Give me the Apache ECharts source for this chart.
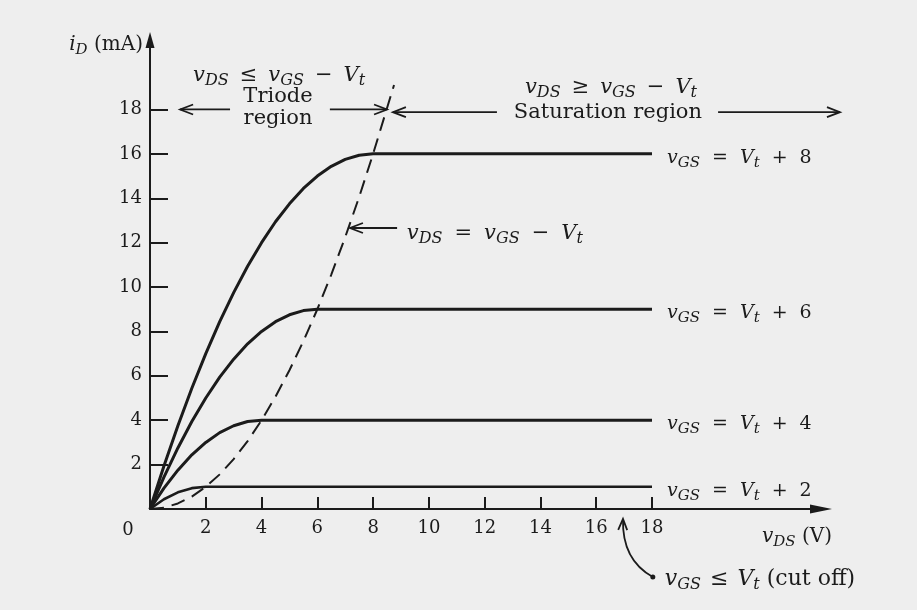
<!DOCTYPE html>
<html><head><meta charset="utf-8">
<script src="https://cdn.jsdelivr.net/npm/echarts@6/dist/echarts.min.js"></script>
<style>html,body{margin:0;padding:0;background:#eeeeee}#c{width:917px;height:610px}</style>
</head><body><div id="c"></div>
<script>
// ---- data ----
const vds8 = [0, 0.5, 1, 1.5, 2, 2.5, 3, 3.5, 4, 4.5, 5, 5.5, 6, 6.5, 7, 7.5, 8, 18];
const id8  = [0, 1.94, 3.75, 5.44, 7, 8.44, 9.75, 10.94, 12, 12.94, 13.75, 14.44, 15, 15.44, 15.75, 15.94, 16, 16];
const vds6 = [0, 0.5, 1, 1.5, 2, 2.5, 3, 3.5, 4, 4.5, 5, 5.5, 6, 18];
const id6  = [0, 1.44, 2.75, 3.94, 5, 5.94, 6.75, 7.44, 8, 8.44, 8.75, 8.94, 9, 9];
const vds4 = [0, 0.5, 1, 1.5, 2, 2.5, 3, 3.5, 4, 18];
const id4  = [0, 0.94, 1.75, 2.44, 3, 3.44, 3.75, 3.94, 4, 4];
const vds2 = [0, 0.5, 1, 1.5, 2, 18];
const id2  = [0, 0.44, 0.75, 0.94, 1, 1];
const vdsB = [0, 0.5, 1, 1.5, 2, 2.5, 3, 3.5, 4, 4.5, 5, 5.5, 6, 6.5, 7, 7.5, 8, 8.75];
const idB  = [0, 0.06, 0.25, 0.56, 1, 1.56, 2.25, 3.06, 4, 5.06, 6.25, 7.56, 9, 10.56, 12.25, 14.06, 16, 19.1];
const curveOffsets = ['8', '6', '4', '2'];
const xTickValues = [2, 4, 6, 8, 10, 12, 14, 16, 18];
const yTickValues = [2, 4, 6, 8, 10, 12, 14, 16, 18];

// ---- style ----
const INK = '#1b1b1b';
const SERIF = "'DejaVu Serif', serif";

function richSet(main, sub, pad) {
  const lh = main + 6;
  return {
    v: {fontFamily: SERIF, fontStyle: 'italic', fontSize: main, color: INK, lineHeight: lh},
    s: {fontFamily: SERIF, fontStyle: 'italic', fontSize: sub, color: INK, verticalAlign: 'bottom'},
    o: {fontFamily: SERIF, fontSize: main, color: INK, lineHeight: lh, padding: [0, pad, 0, pad]},
    n: {fontFamily: SERIF, fontSize: main, color: INK, lineHeight: lh}
  };
}
const eqSat = n => '{v|v}{s|GS}{o|=}{v|V}{s|t}{o|+}{n|' + n + '}';

const curves = [[vds8, id8], [vds6, id6], [vds4, id4], [vds2, id2]];
const series = curves.map((c, i) => ({
  type: 'line',
  data: c[0].map((x, j) => [x, c[1][j]]),
  symbol: 'none',
  smooth: false,
  lineStyle: {color: INK, width: i === 3 ? 2.6 : 3},
  endLabel: {
    show: true,
    formatter: eqSat(curveOffsets[i]),
    rich: richSet(19, 15, 12),
    distance: 15,
    offset: [0, 4]
  },
  animation: false
}));
series.push({
  type: 'line',
  data: vdsB.map((x, j) => [x, idB[j]]),
  symbol: 'none',
  lineStyle: {color: INK, width: 2, type: [14, 8]},
  animation: false
});

const chart = echarts.init(document.getElementById('c'), null, {renderer: 'canvas'});
chart.setOption({
  backgroundColor: '#eeeeee',
  animation: false,
  grid: {left: 150, right: 96, top: 40, bottom: 101},
  xAxis: {
    type: 'value', min: 0, max: 24.06,
    name: '{v|v}{s|DS}{n| (V)}',
    nameLocation: 'end', nameGap: 11,
    nameTextStyle: {align: 'right', verticalAlign: 'top', padding: [15, 0, 0, 0], rich: richSet(20, 15, 0)},
    axisLine: {lineStyle: {color: INK, width: 2}, symbol: ['none', 'triangle'], symbolSize: [9, 22]},
    axisTick: {customValues: xTickValues, inside: true, length: 12, lineStyle: {color: INK, width: 2}},
    axisLabel: {customValues: xTickValues, fontFamily: SERIF, fontSize: 18, color: INK, margin: 10},
    splitLine: {show: false}
  },
  yAxis: {
    type: 'value', min: 0, max: 21.13,
    name: '{v|i}{s|D}{n| (mA)}',
    nameLocation: 'end', nameGap: -5,
    nameTextStyle: {align: 'right', verticalAlign: 'middle', padding: [0, 7, 0, 0], rich: richSet(20, 15, 0)},
    axisLine: {lineStyle: {color: INK, width: 2}, symbol: ['none', 'triangle'], symbolSize: [9, 16]},
    axisTick: {customValues: yTickValues, inside: true, length: 18, lineStyle: {color: INK, width: 2}},
    axisLabel: {customValues: yTickValues, fontFamily: SERIF, fontSize: 18, color: INK, margin: 8},
    splitLine: {show: false}
  },
  series: series
});

// ---- annotations (data coordinates, converted through the chart's axes) ----
const P = (x, y) => chart.convertToPixel({xAxisIndex: 0, yAxisIndex: 0}, [x, y]);
const annTexts = [
  {at: [4.63, 19.55], text: '{v|v}{s|DS}{o|≤}{v|v}{s|GS}{o|−}{v|V}{s|t}', rich: richSet(21, 16, 11), align: 'center'},
  {at: [4.59, 18.6], text: 'Triode', font: 21, align: 'center'},
  {at: [4.59, 17.57], text: 'region', font: 21, align: 'center'},
  {at: [16.53, 19.0], text: '{v|v}{s|DS}{o|≥}{v|v}{s|GS}{o|−}{v|V}{s|t}', rich: richSet(21, 16, 11), align: 'center'},
  {at: [16.42, 17.88], text: 'Saturation region', font: 21, align: 'center'},
  {at: [9.21, 12.43], text: '{v|v}{s|DS}{o|=}{v|v}{s|GS}{o|−}{v|V}{s|t}', rich: richSet(21, 16, 12), align: 'left'},
  {at: [18.46, -3.15], text: '{v|v}{s|GS}{o|≤}{v|V}{s|t}{n| (cut off)}', rich: richSet(22, 16, 9), align: 'left'},
  {at: [-0.79, -0.95], text: '0', font: 18, align: 'center'}
];
const annArrows = [
  {from: [2.87, 18], to: [1.08, 18]},
  {from: [6.45, 18], to: [8.5, 18]},
  {from: [12.44, 17.88], to: [8.71, 17.88]},
  {from: [20.37, 17.88], to: [24.74, 17.88]},
  {from: [8.86, 12.66], to: [7.17, 12.66]}
];
const cutoffCurve = {from: [18.03, -3.06], ctrl: [16.92, -2.3], to: [16.96, -0.45]};

function head(tip, from, len, hw) {
  const dx = tip[0] - from[0], dy = tip[1] - from[1];
  const L = Math.hypot(dx, dy) || 1;
  const ux = dx / L, uy = dy / L, nx = -uy, ny = ux;
  const bx = tip[0] - ux * len, by = tip[1] - uy * len;
  return {type: 'polyline', shape: {points: [[bx + nx * hw, by + ny * hw], tip, [bx - nx * hw, by - ny * hw]]},
          style: {stroke: INK, lineWidth: 1.8, fill: null}, silent: true};
}

const els = [];
annTexts.forEach(a => {
  const p = P(a.at[0], a.at[1]);
  const style = {text: a.text, fill: INK, align: a.align, verticalAlign: 'middle',
                 font: (a.font || 18) + 'px ' + SERIF};
  if (a.rich) style.rich = a.rich;
  els.push({type: 'text', x: p[0], y: p[1], style: style, silent: true});
});
annArrows.forEach(a => {
  const f = P(a.from[0], a.from[1]), t = P(a.to[0], a.to[1]);
  els.push({type: 'line', shape: {x1: f[0], y1: f[1], x2: t[0], y2: t[1]}, style: {stroke: INK, lineWidth: 1.8}, silent: true});
  els.push(head(t, f, 13, 5));
});
{
  const f = P(cutoffCurve.from[0], cutoffCurve.from[1]);
  const c = P(cutoffCurve.ctrl[0], cutoffCurve.ctrl[1]);
  const t = P(cutoffCurve.to[0], cutoffCurve.to[1]);
  els.push({type: 'bezierCurve', shape: {x1: f[0], y1: f[1], cpx1: c[0], cpy1: c[1], x2: t[0], y2: t[1]},
            style: {stroke: INK, lineWidth: 1.8, fill: null}, silent: true});
  els.push({type: 'circle', shape: {cx: f[0], cy: f[1], r: 2.5}, style: {fill: INK}, silent: true});
  els.push(head(t, c, 11, 4.5));
}
chart.setOption({graphic: {elements: els}});
</script>
</body></html>
